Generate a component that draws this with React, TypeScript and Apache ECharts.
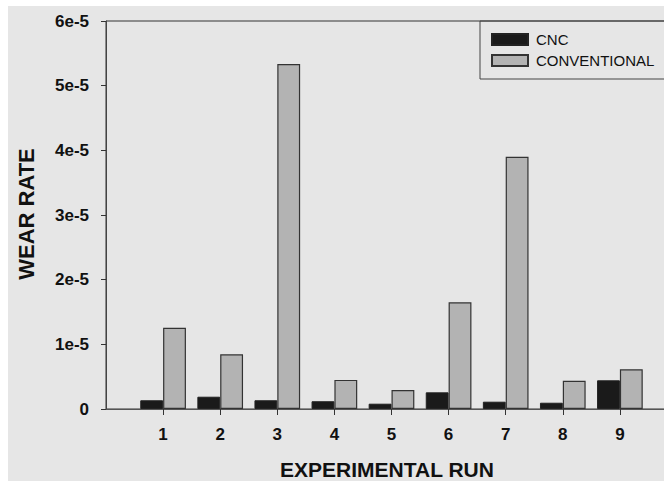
import React, { useEffect, useRef } from "react";
import * as echarts from "echarts";

const categories = ["1", "2", "3", "4", "5", "6", "7", "8", "9"];
const cncValues = [1.35e-6, 1.9e-6, 1.35e-6, 1.2e-6, 0.82e-6, 2.58e-6, 1.13e-6, 0.97e-6, 4.44e-6];
const conventionalValues = [1.257e-5, 8.45e-6, 5.335e-5, 4.5e-6, 2.94e-6, 1.65e-5, 3.9e-5, 4.38e-6, 6.14e-6];
const yTicks = ["0", "1e-5", "2e-5", "3e-5", "4e-5", "5e-5", "6e-5"];

const FONT = "'Liberation Sans', Arial, Helvetica, sans-serif";

export default function App() {
  const ref = useRef<HTMLDivElement>(null);
  useEffect(() => {
    if (!ref.current) return;
    const chart = echarts.init(ref.current, undefined, { renderer: "svg" });
    const axisData = ["", ...categories, ""];
    const pad = (arr: number[]) => [null, ...arr, null];
    chart.setOption({
      animation: false,
      backgroundColor: "#e6e6e6",
      textStyle: { fontFamily: FONT },
      grid: {
        left: 98,
        top: 15,
        width: 571,
        height: 388,
        show: true,
        borderColor: "#333",
        borderWidth: 1,
        backgroundColor: "transparent",
      },
      legend: {
        orient: "vertical",
        left: 483,
        top: 25,
        padding: 0,
        itemWidth: 36,
        itemHeight: 11,
        itemGap: 4,
        icon: "rect",
        textStyle: {
          fontSize: 15,
          color: "#111",
          fontFamily: FONT,
          lineHeight: 17,
          padding: [0, 0, 0, 3],
        },
        data: ["CNC", "CONVENTIONAL"],
      },
      xAxis: {
        type: "category",
        data: axisData,
        boundaryGap: false,
        axisLine: { show: true, lineStyle: { color: "#555", width: 1 } },
        axisTick: {
          show: true,
          length: 6,
          interval: (_i: number, v: string) => v !== "",
          lineStyle: { color: "#333" },
        },
        axisLabel: {
          interval: 0,
          margin: 17,
          fontSize: 17,
          fontWeight: "bold",
          color: "#111",
          fontFamily: FONT,
        },
        splitLine: { show: false },
      },
      yAxis: {
        type: "value",
        min: 0,
        max: 6e-5,
        interval: 1e-5,
        axisLine: { show: true, lineStyle: { color: "#444", width: 1 } },
        axisTick: { show: true, length: 5, lineStyle: { color: "#333" } },
        axisLabel: {
          margin: 17,
          fontSize: 17,
          fontWeight: "bold",
          color: "#111",
          fontFamily: FONT,
          formatter: (v: number) => yTicks[Math.round(v * 1e5)] ?? "",
        },
        splitLine: { show: false },
      },
      series: [
        {
          name: "CNC",
          type: "bar",
          data: pad(cncValues),
          barGap: "0%",
          barCategoryGap: "20%",
          itemStyle: { color: "#1a1a1a", borderColor: "#222", borderWidth: 1 },
        },
        {
          name: "CONVENTIONAL",
          type: "bar",
          data: pad(conventionalValues),
          barGap: "0%",
          barCategoryGap: "20%",
          itemStyle: { color: "#b3b3b3", borderColor: "#333", borderWidth: 1.2 },
        },
      ],
      graphic: [
        {
          type: "rect",
          z: 1,
          shape: { x: 472, y: 15, width: 300, height: 58 },
          style: { fill: "transparent", stroke: "#444", lineWidth: 1 },
        },
        {
          type: "text",
          x: 379,
          y: 463,
          style: {
            text: "EXPERIMENTAL RUN",
            fontSize: 21,
            fontWeight: "bold",
            fontFamily: FONT,
            fill: "#111",
            align: "center",
            verticalAlign: "middle",
          },
        },
        {
          type: "text",
          x: 18,
          y: 208,
          rotation: Math.PI / 2,
          style: {
            text: "WEAR RATE",
            fontSize: 22,
            fontWeight: "bold",
            fontFamily: FONT,
            fill: "#111",
            align: "center",
            verticalAlign: "middle",
          },
        },
      ],
    });
    return () => chart.dispose();
  }, []);
  return (
    <div
      style={{
        position: "fixed",
        left: 8,
        top: 6,
        width: 656,
        height: 475,
        overflow: "hidden",
      }}
    >
      <div ref={ref} style={{ width: 720, height: 475 }} />
    </div>
  );
}
